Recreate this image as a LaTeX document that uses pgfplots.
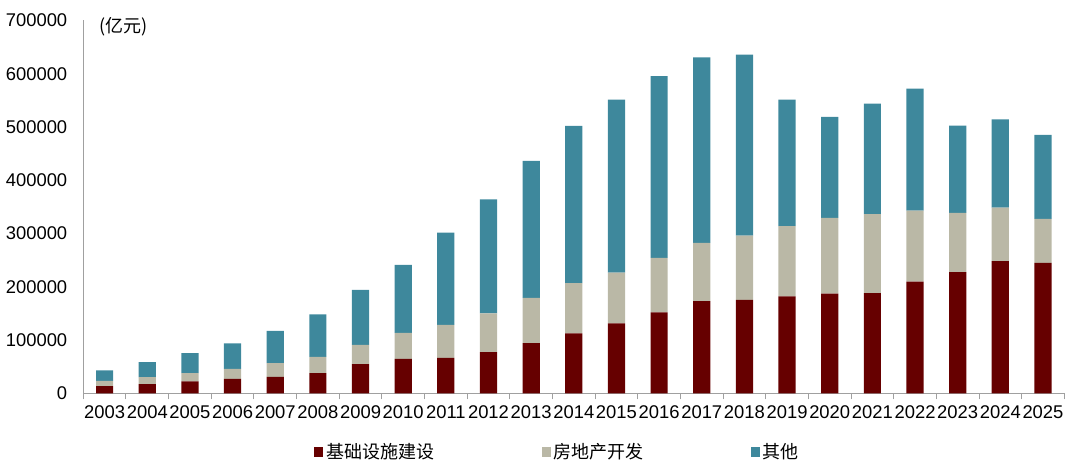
\documentclass[border=0pt]{standalone}
\usepackage{pgfplots}
\pgfplotsset{compat=1.18}
\usepackage{fontspec}
\setmainfont{Liberation Sans}
\newfontfamily\cjk{Noto Sans CJK SC}
\definecolor{cred}{HTML}{660000}
\definecolor{cgray}{HTML}{BAB8A6}
\definecolor{cblue}{HTML}{3E889C}
\definecolor{caxis}{HTML}{A0A0A0}
\begin{document}
\begin{tikzpicture}
\useasboundingbox (0,0) rectangle (540pt,236.5pt);
\begin{axis}[
  at={(41.65pt,39.8pt)}, anchor=south west,
  scale only axis, width=490.5pt, height=186.5pt,
  ybar stacked, bar width=8.6pt,
  xmin=-0.5, xmax=22.5, ymin=0, ymax=700000,
  xtick={0,...,22},
  xticklabels={2003,2004,2005,2006,2007,2008,2009,2010,2011,2012,2013,2014,2015,2016,2017,2018,2019,2020,2021,2022,2023,2024,2025},
  minor xtick={-0.5,0.5,...,22.5},
  major tick length=0pt,
  minor tick length=3pt,
  tick align=outside,
  minor tick style={caxis, line width=0.5pt},
  ytick={0,100000,...,700000},
  scaled y ticks=false,
  yticklabel={\pgfmathprintnumber[fixed,1000 sep={},assume math mode=true]{\tick}},
  ticklabel style={font=\fontsize{9.2}{10}\selectfont, text=black},
  xticklabel style={yshift=-2.5pt},
  yticklabel style={xshift=-4.5pt},
  axis x line*=bottom, axis y line*=left,
  axis line style={caxis, line width=0.6pt},
  separate axis lines,
  x axis line style={-}, y axis line style={-},
  legend columns=3,
  legend style={draw=none, fill=none, at={(0.484,-0.157)}, anchor=center,
    font=\cjk\fontsize{9}{10}\selectfont, inner sep=0pt,
    /tikz/every even column/.append style={column sep=52pt},
    /tikz/every odd column/.append style={column sep=0pt},
    nodes={inner xsep=1.5pt, inner ysep=1pt}},
  legend image code/.code={\fill[#1] (0pt,-2.3pt) rectangle (4.6pt,2.3pt);},
  clip=false,
]
\addplot[fill=cred, draw=none] coordinates {
(0,13750) (1,17500) (2,22500) (3,27500) (4,31250) (5,38125) (6,55000) (7,65000)
(8,66875) (9,77500) (10,94375) (11,112500) (12,131250) (13,151875) (14,173125)
(15,175625) (16,181875) (17,187500) (18,188125) (19,210000) (20,227500) (21,248125) (22,245000)};
\addplot[fill=cgray, draw=none] coordinates {
(0,10000) (1,13125) (2,15625) (3,18750) (4,25625) (5,30625) (6,36250) (7,48750)
(8,61875) (9,72500) (10,85000) (11,94375) (12,95625) (13,102500) (14,109375)
(15,120625) (16,131875) (17,141875) (18,148125) (19,133125) (20,111250) (21,100625) (22,82500)};
\addplot[fill=cblue, draw=none] coordinates {
(0,19375) (1,28125) (2,37500) (3,47500) (4,60625) (5,79375) (6,103125) (7,127500)
(8,173125) (9,214375) (10,256875) (11,295000) (12,324375) (13,341250) (14,348125)
(15,339375) (16,237500) (17,189375) (18,207500) (19,228750) (20,163750) (21,165625) (22,157500)};
\legend{基础设施建设,房地产开发,其他}
\node[font=\cjk\fontsize{9}{10}\selectfont, anchor=west, inner sep=0pt] at (rel axis cs:0.016,0.984) {(亿元)};
\end{axis}
\end{tikzpicture}
\end{document}
